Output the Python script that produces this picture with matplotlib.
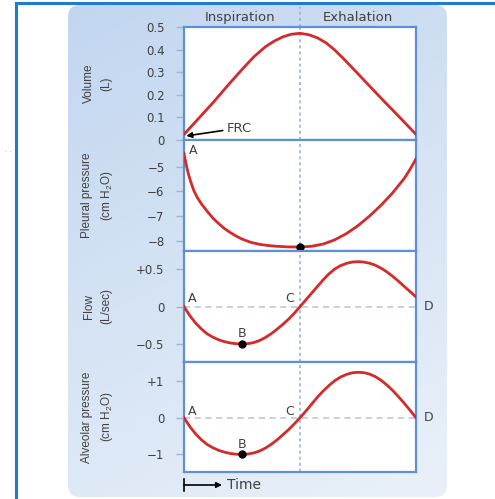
import numpy as np
import matplotlib.pyplot as plt
from matplotlib.patches import FancyBboxPatch
from matplotlib.lines import Line2D

plt.rcParams['font.family'] = ['DejaVu Sans']
plt.rcParams['mathtext.fontset'] = 'custom'
plt.rcParams['mathtext.rm'] = 'Liberation Sans'

# time axis: inspiration 0-2, exhalation 2-4
vol_t = [0, 0.25, 0.5, 0.75, 1.0, 1.2, 1.4, 1.55, 1.7, 1.85, 2.0,
         2.15, 2.3, 2.45, 2.6, 2.75, 2.9, 3.0, 3.25, 3.5, 3.75, 4.0]
vol = [0.025, 0.095, 0.165, 0.24, 0.312, 0.367, 0.412, 0.437, 0.456, 0.468, 0.472,
       0.466, 0.452, 0.43, 0.398, 0.36, 0.32, 0.293, 0.225, 0.158, 0.092, 0.025]

pl_t = [0, 0.02, 0.05, 0.08, 0.12, 0.17, 0.23, 0.3, 0.4, 0.5, 0.6, 0.7, 0.8, 0.9, 1.0,
        1.15, 1.3, 1.45, 1.6, 1.8, 2.0, 2.2, 2.4, 2.6, 2.8, 3.0, 3.2, 3.4, 3.6, 3.8, 3.9, 4.0]
pleural = [-4.46, -4.72, -5.05, -5.33, -5.64, -5.97, -6.25, -6.5, -6.8, -7.08, -7.3, -7.5, -7.66, -7.8, -7.92,
           -8.05, -8.13, -8.18, -8.21, -8.235, -8.24, -8.21, -8.12, -7.95, -7.7, -7.38, -6.99, -6.55, -6.05,
           -5.47, -5.1, -4.69]
pl_min = 20  # index of the marked minimum

fl_t = [0, 0.1, 0.2, 0.3, 0.4, 0.5, 0.6, 0.7, 0.8, 0.9, 1.0, 1.1, 1.2, 1.3, 1.4, 1.5, 1.6, 1.7, 1.8, 1.9, 2.0,
        2.1, 2.2, 2.3, 2.4, 2.5, 2.6, 2.7, 2.8, 2.9, 3.0, 3.1, 3.2, 3.3, 3.4, 3.5, 3.6, 3.7, 3.8, 3.9, 4.0]
flow = [0, -0.12, -0.22, -0.30, -0.365, -0.41, -0.445, -0.47, -0.487, -0.497, -0.5,
        -0.496, -0.482, -0.455, -0.415, -0.365, -0.305, -0.24, -0.17, -0.09, 0,
        0.09, 0.18, 0.27, 0.36, 0.44, 0.505, 0.55, 0.58, 0.598, 0.603,
        0.598, 0.582, 0.555, 0.515, 0.465, 0.405, 0.34, 0.27, 0.2, 0.13]
alv = [0, -0.24, -0.44, -0.6, -0.73, -0.82, -0.89, -0.94, -0.975, -0.995, -1.0,
       -0.99, -0.96, -0.91, -0.83, -0.73, -0.61, -0.47, -0.33, -0.17, 0,
       0.18, 0.37, 0.56, 0.73, 0.88, 1.01, 1.11, 1.18, 1.225, 1.24,
       1.23, 1.19, 1.12, 1.02, 0.89, 0.74, 0.57, 0.39, 0.2, 0.0]
b_idx = 10  # point B

vol_ticks = [0, 0.1, 0.2, 0.3, 0.4, 0.5]
vol_labels = ['0', '0.1', '0.2', '0.3', '0.4', '0.5']
pl_ticks = [-8, -7, -6, -5]
pl_labels = ['\u22128', '\u22127', '\u22126', '\u22125']
fl_ticks = [-0.5, 0, 0.5]
fl_labels = ['\u22120.5', '0', '+0.5']
alv_ticks = [-1, 0, 1]
alv_labels = ['\u22121', '0', '+1']

W, H = 495, 499
fig = plt.figure(figsize=(W / 100, H / 100), dpi=100)

# ---- background ----
bg = fig.add_axes([0, 0, 1, 1])
bg.set_xlim(0, W)
bg.set_ylim(H, 0)
bg.axis('off')
box = FancyBboxPatch((68, 5), 379, 492, boxstyle='round,pad=0,rounding_size=12',
                     facecolor='none', edgecolor='none')
bg.add_patch(box)
yy, xx = np.mgrid[0:1:100j, 0:1:100j]
c_top = np.array([0.76, 0.84, 0.94])
c_bot = np.array([0.91, 0.94, 0.975])
w = np.clip(0.75 * yy + 0.3 * xx, 0, 1)[..., None]
grad = c_top * (1 - w) + c_bot * w
im = bg.imshow(grad, extent=(68, 447, 497, 5), aspect='auto', zorder=0)
im.set_clip_path(box)
bg.add_line(Line2D([16, 16], [3, H], color='#1c7cd0', lw=2.2))
bg.add_line(Line2D([16, W], [3, 3], color='#1c7cd0', lw=2.2))
fig.text(5 / W, 1 - 152 / H, '. .', fontsize=5, color='#e0a060')

# ---- panels ----
left, right = 184 / W, 416 / W
edges = [27, 140, 251, 362, 472]
red = '#d42a2a'
spine_c = '#5f8fd4'
tick_c = '#9fb4d4'
txt_c = '#404040'
div_c = '#8eaee0'

axes = []
for i in range(4):
    top, bot = edges[i], edges[i + 1]
    ax = fig.add_axes([left, 1 - bot / H, right - left, (bot - top) / H])
    ax.set_facecolor('white')
    ax.set_xlim(0, 4)
    ax.set_xticks([])
    for s in ax.spines.values():
        s.set_color(spine_c)
        s.set_linewidth(1.6)
    ax.tick_params(axis='y', length=6, width=1, color=tick_c, pad=8,
                   labelsize=8.5, labelcolor=txt_c)
    ax.axvline(2, color=div_c, lw=1.1, ls=(0, (2, 2)), zorder=1)
    axes.append(ax)

ax1, ax2, ax3, ax4 = axes

ax1.plot(vol_t, vol, color=red, lw=2, solid_capstyle='round', zorder=3)
ax1.set_ylim(0, 0.5)
ax1.set_yticks(vol_ticks, vol_labels)
ax1.annotate('FRC', xy=(0.04, 0.018), xytext=(0.74, 0.053), fontsize=9.5, color=txt_c,
             va='center', ha='left',
             arrowprops=dict(arrowstyle='-|>', color='black', lw=1.2, mutation_scale=8,
                             shrinkA=1, shrinkB=0))
ax1.add_line(Line2D([2, 2], [0.5, 0.59], color=div_c, lw=1.1, ls=(0, (2, 2)), clip_on=False))
ax1.text(0.97, 0.54, 'Inspiration', ha='center', va='center', fontsize=9.5, color=txt_c)
ax1.text(3.0, 0.54, 'Exhalation', ha='center', va='center', fontsize=9.5, color=txt_c)

ax2.plot(pl_t, pleural, color=red, lw=2, zorder=3)
ax2.plot([pl_t[pl_min]], [pleural[pl_min]], 'o', color='black', ms=5, zorder=4, clip_on=False)
ax2.set_ylim(-8.4, -3.93)
ax2.set_yticks(pl_ticks, pl_labels)
ax2.text(0.08, -4.37, 'A', fontsize=9, color=txt_c, va='center', ha='left')

for ax, y, ymin, ymax, ticks, labels, lab_y, b_off in [
        (ax3, flow, -0.742, 0.746, fl_ticks, fl_labels, 0.11, 0.135),
        (ax4, alv, -1.48, 1.52, alv_ticks, alv_labels, 0.17, 0.28)]:
    ax.axhline(0, color='#b5c3d8', lw=1.1, ls=(0, (4, 3)), zorder=1)
    ax.plot(fl_t, y, color=red, lw=2, zorder=3)
    ax.plot([fl_t[b_idx]], [y[b_idx]], 'o', color='black', ms=5, zorder=4)
    ax.set_ylim(ymin, ymax)
    ax.set_yticks(ticks, labels)
    ax.text(0.06, lab_y, 'A', fontsize=9, color=txt_c, ha='left', va='center')
    ax.text(fl_t[b_idx], y[b_idx] + b_off, 'B', fontsize=9, color=txt_c, ha='center', va='center')
    ax.text(1.82, lab_y, 'C', fontsize=9, color=txt_c, ha='center', va='center')
    ax.text(4.21, 0, 'D', fontsize=9, color=txt_c, ha='center', va='center', clip_on=False)

# y labels
ylabels = ['Volume\n(L)', 'Pleural pressure\n(cm H$_\\mathrm{2}$O)', 'Flow\n(L/sec)',
           'Alveolar pressure\n(cm H$_\\mathrm{2}$O)']
for i, lab in enumerate(ylabels):
    yc = (edges[i] + edges[i + 1]) / 2
    fig.text(98 / W, 1 - yc / H, lab, rotation=90, ha='center', va='center',
             fontsize=8.5, color=txt_c, linespacing=1.6, family='Liberation Sans')

# time arrow
bg.add_line(Line2D([184, 184], [479, 491], color='black', lw=1.2))
bg.annotate('', xy=(222, 485), xytext=(184, 485),
            arrowprops=dict(arrowstyle='-|>', color='black', lw=1.2, mutation_scale=8,
                            shrinkA=0, shrinkB=0))
bg.text(227, 485, 'Time', fontsize=10, color=txt_c, va='center', ha='left')

fig.savefig('out.png', dpi=100)
